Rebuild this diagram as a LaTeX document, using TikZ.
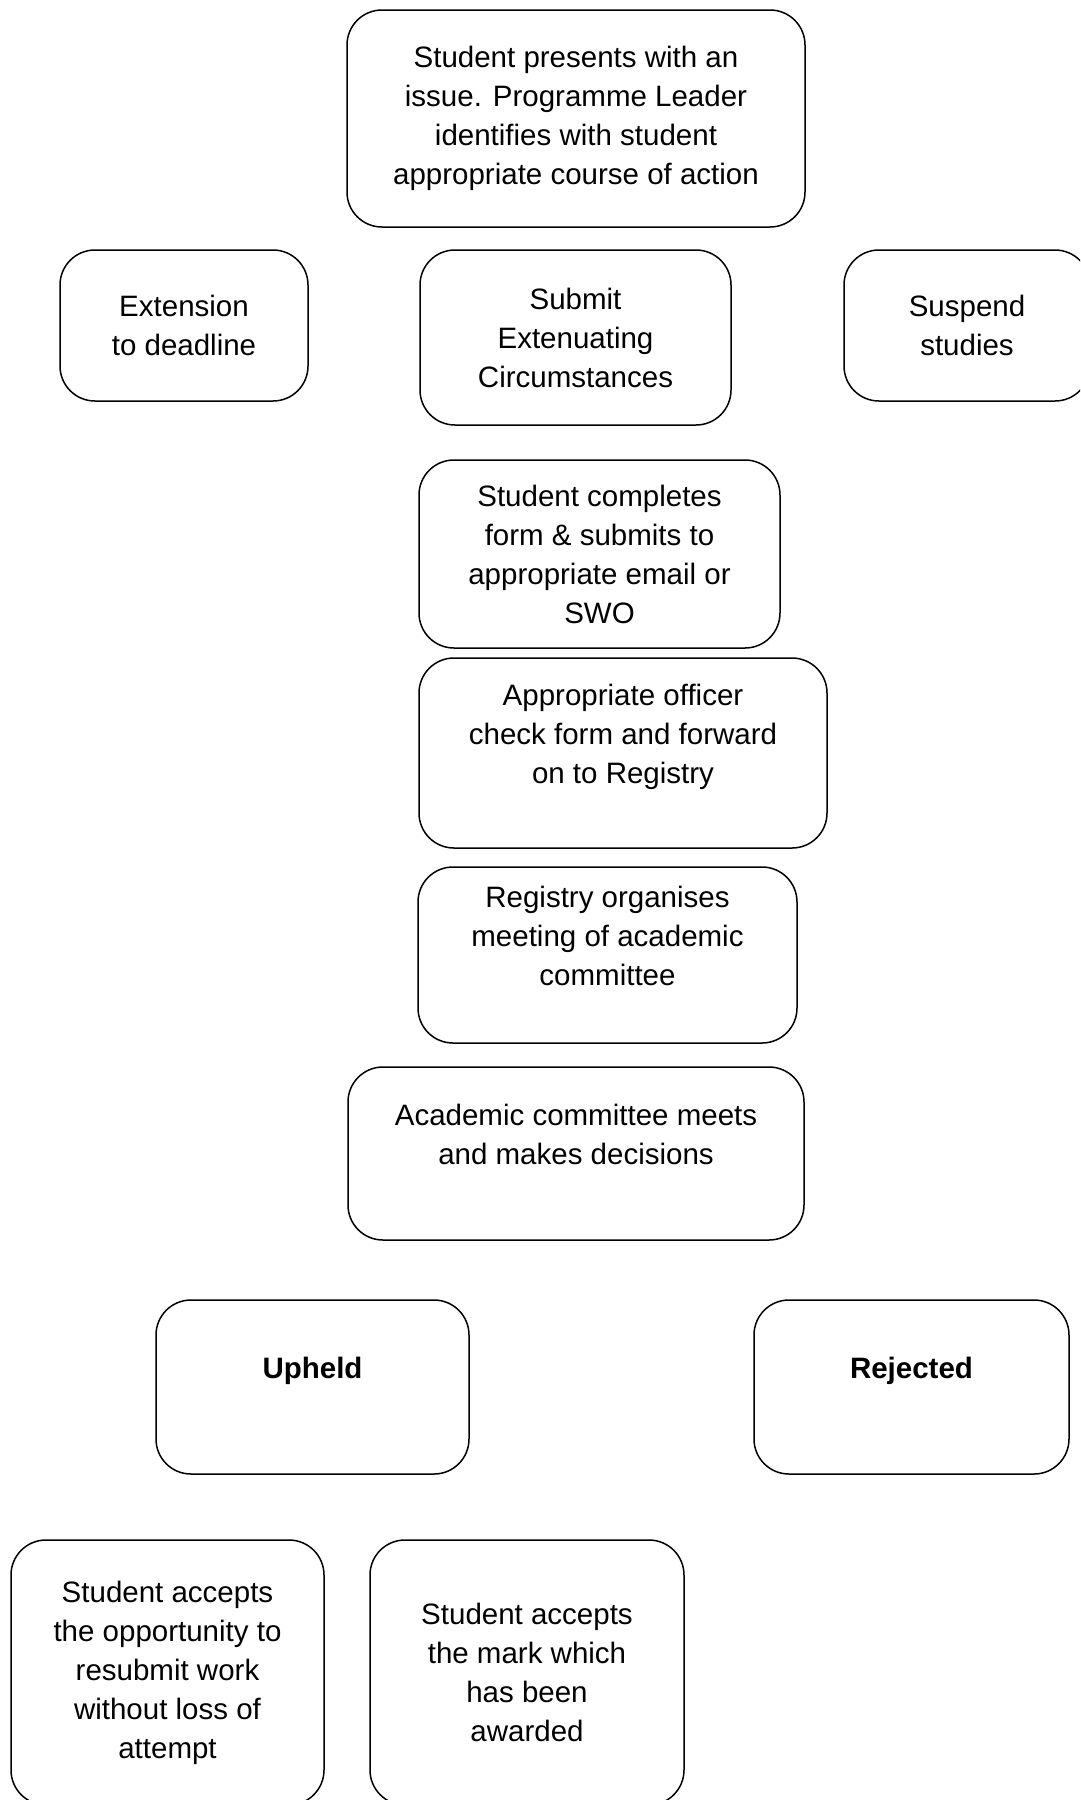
\documentclass[tikz,border=0pt]{standalone}
\usepackage{fontspec}
\setmainfont{Liberation Sans}

\begin{document}
\begin{tikzpicture}[x=1pt, y=-1pt,
    box/.style={draw, line width=1.5pt, rounded corners=35pt, align=center, inner sep=0pt,
                font=\fontsize{29.5}{39}\selectfont}]
  \clip (0, 0) rectangle (1080, 1800);

  \node[box, minimum width=458, minimum height=217] at (576, 118.5)   (n_1) {Student presents with an\\issue. Programme Leader\\identifies with student\\appropriate course of action};

  \node[box, minimum width=248, minimum height=151] at (184, 325.5)   (n_2) {Extension\\to deadline};
  \node[box, minimum width=311, minimum height=175] at (575.5, 337.5) (n_3) {Submit\\Extenuating\\Circumstances};
  \node[box, minimum width=246, minimum height=151] at (967, 325.5)   (n_4) {Suspend\\studies};

  \node[box, minimum width=361, minimum height=188] at (599.5, 554)   (n_5) {Student completes\\form \& submits to\\appropriate email or\\SWO};
  \node[box, minimum width=408, minimum height=190] at (623, 753)     (n_6) {Appropriate officer\\check form and forward\\on to Registry\\~};
  \node[box, minimum width=379, minimum height=176] at (607.5, 955)   (n_7) {Registry organises\\meeting of academic\\committee\\~};
  \node[box, minimum width=456, minimum height=173] at (576, 1153.5)  (n_8) {Academic committee meets\\and makes decisions\\~};

  \node[box, minimum width=313, minimum height=174] at (312.5, 1387)  (n_9) {\textbf{Upheld}\\~};
  \node[box, minimum width=315, minimum height=174] at (911.5, 1387)  (n_10) {\textbf{Rejected}\\~};

  \node[box, minimum width=313, minimum height=265] at (167.5, 1672.5) (n_11) {Student accepts\\the opportunity to\\resubmit work\\without loss of\\attempt};
  \node[box, minimum width=314, minimum height=265] at (527, 1672.5)   (n_12) {Student accepts\\the mark which\\has been\\awarded};

\end{tikzpicture}
\end{document}
